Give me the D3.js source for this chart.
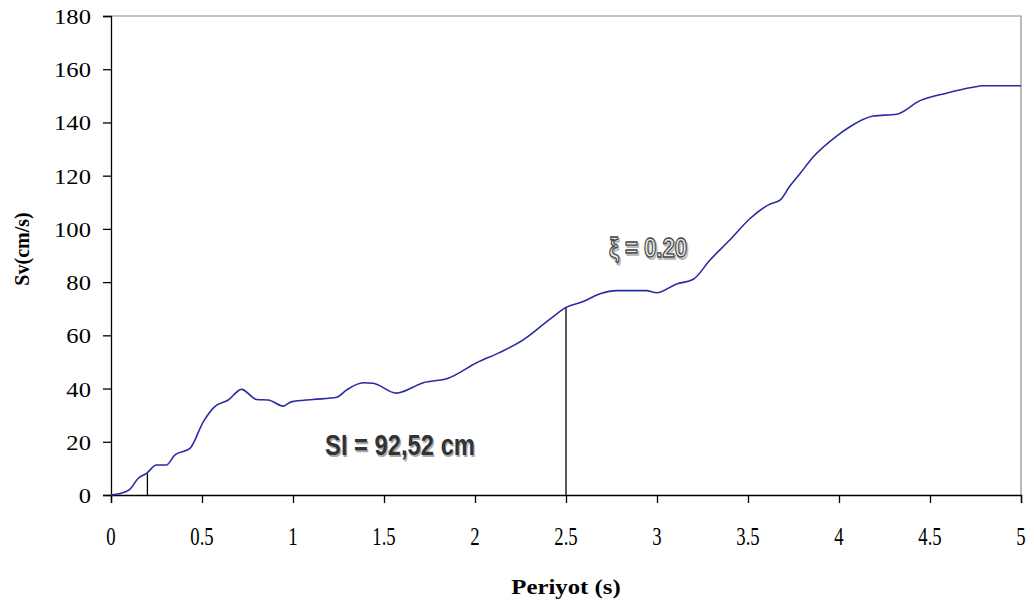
<!DOCTYPE html>
<html>
<head>
<meta charset="utf-8">
<script src="https://cdn.jsdelivr.net/npm/d3@7"></script>
<style>
  html, body { margin: 0; padding: 0; background: #fff; }
  svg { display: block; }
</style>
</head>
<body>
<svg id="chart" width="1034" height="607"></svg>
<script>
// ---- data ----
const periods = [0, 0.05, 0.10, 0.15, 0.195, 0.25, 0.305, 0.35, 0.434, 0.507, 0.57, 0.644, 0.717, 0.80, 0.864, 0.947, 0.99, 1.11, 1.24, 1.295, 1.386, 1.44, 1.567, 1.716, 1.853, 2.009, 2.137, 2.265, 2.412, 2.503, 2.595, 2.687, 2.778, 2.943, 2.998, 3.108, 3.20, 3.29, 3.40, 3.51, 3.62, 3.676, 3.73, 3.786, 3.859, 3.987, 4.06, 4.188, 4.317, 4.445, 4.59, 4.736, 4.79, 5.0];
const sv = [0, 0.6, 1.9, 6.3, 8.1, 11.3, 11.3, 15, 17.5, 27.5, 33.2, 35.7, 39.7, 35.9, 35.7, 33.4, 35, 35.9, 36.7, 39.5, 42.2, 42, 38.3, 42.2, 43.9, 49.7, 53.6, 58.3, 66.1, 70.6, 72.7, 75.6, 76.8, 76.8, 76.0, 79.3, 81.1, 88.2, 95.8, 103.8, 109.3, 110.8, 116.1, 120.8, 127.1, 134.9, 138.4, 142.4, 143.1, 148.2, 151, 153.2, 153.8, 153.8];
const xTicks = [0, 0.5, 1, 1.5, 2, 2.5, 3, 3.5, 4, 4.5, 5];
const xTickLabels = ["0", "0.5", "1", "1.5", "2", "2.5", "3", "3.5", "4", "4.5", "5"];
const yTicks = [0, 20, 40, 60, 80, 100, 120, 140, 160, 180];
const markerPeriods = [0.2, 2.5];
const markerValues = [8.1, 70.6];
const xTitle = "Periyot (s)";
const yTitle = "Sv(cm/s)";
const siLabel = "SI = 92,52 cm";
const xiLabel = "ξ = 0.20";

// ---- layout ----
const svg = d3.select("#chart");
const L = 111, R = 1021, T = 16, B = 495;
const x = d3.scaleLinear().domain([0, 5]).range([L, R]);
const y = d3.scaleLinear().domain([0, 180]).range([B, T]);

// plot-area frame (top and right)
svg.append("path")
  .attr("d", `M${L},${T}H${R}V${B}`)
  .attr("fill", "none").attr("stroke", "#8c8c8c").attr("stroke-width", 1.2);

// y axis
const yAxis = svg.append("g").attr("transform", `translate(${L},0)`)
  .call(d3.axisLeft(y).tickValues(yTicks).tickSize(8).tickFormat(""));
yAxis.select(".domain").attr("stroke", "#000").attr("stroke-width", 1.3);
yAxis.selectAll(".tick line").attr("stroke", "#000").attr("stroke-width", 1.3);
svg.append("g").selectAll("text").data(yTicks).join("text")
  .attr("transform", d => `translate(91,${y(d) + 8}) scale(1.12,1)`)
  .attr("text-anchor", "end")
  .attr("font-family", "Liberation Serif, serif")
  .attr("font-size", 22)
  .attr("fill", "#000")
  .text(d => d);

// x axis
const xAxis = svg.append("g").attr("transform", `translate(0,${B})`)
  .call(d3.axisBottom(x).tickValues(xTicks).tickSize(8).tickFormat(""));
xAxis.select(".domain").attr("stroke", "#000").attr("stroke-width", 1.3);
xAxis.selectAll(".tick line").attr("stroke", "#000").attr("stroke-width", 1.3);
svg.append("g").selectAll("text").data(xTicks).join("text")
  .attr("transform", d => `translate(${x(d)},545) scale(0.72,1)`)
  .attr("text-anchor", "middle")
  .attr("font-family", "Liberation Serif, serif")
  .attr("font-size", 26)
  .attr("fill", "#000")
  .text((d, i) => xTickLabels[i]);

// axis titles
svg.append("text")
  .attr("transform", `translate(566,594) scale(1.18,1)`)
  .attr("text-anchor", "middle")
  .attr("font-family", "Liberation Serif, serif")
  .attr("font-weight", "bold")
  .attr("font-size", 21)
  .text(xTitle);
svg.append("text")
  .attr("transform", `translate(29,249) rotate(-90)`)
  .attr("text-anchor", "middle")
  .attr("font-family", "Liberation Serif, serif")
  .attr("font-weight", "bold")
  .attr("font-size", 20)
  .text(yTitle);

// vertical marker lines
svg.append("g").selectAll("line").data(markerPeriods).join("line")
  .attr("x1", d => x(d)).attr("x2", d => x(d))
  .attr("y1", y(0)).attr("y2", (d, i) => y(markerValues[i]))
  .attr("stroke", "#000").attr("stroke-width", 1.3);

// curve
const line = d3.line().x((d, i) => x(periods[i])).y(d => y(d)).curve(d3.curveMonotoneX);
svg.append("path").datum(sv)
  .attr("d", line)
  .attr("fill", "none")
  .attr("stroke", "#2b2ba3")
  .attr("stroke-width", 1.6)
  .attr("stroke-linejoin", "round");

// annotations
const si = svg.append("g").attr("transform", "translate(400,455) scale(0.82,1)");
si.append("text").attr("x", 1.5).attr("y", 1.5)
  .attr("text-anchor", "middle").attr("font-family", "Liberation Sans, Arial, sans-serif")
  .attr("font-weight", "bold").attr("font-size", 29).attr("fill", "#aaa").text(siLabel);
si.append("text")
  .attr("text-anchor", "middle").attr("font-family", "Liberation Sans, Arial, sans-serif")
  .attr("font-weight", "bold").attr("font-size", 29).attr("fill", "#333").text(siLabel);

const xi = svg.append("g").attr("transform", "translate(648,257) scale(0.82,1)");
xi.append("text").attr("x", 1.5).attr("y", 1.5)
  .attr("text-anchor", "middle").attr("font-family", "Liberation Sans, Arial, sans-serif")
  .attr("font-weight", "bold").attr("font-size", 27)
  .attr("fill", "none").attr("stroke", "#bbb").attr("stroke-width", 2).text(xiLabel);
xi.append("text")
  .attr("text-anchor", "middle").attr("font-family", "Liberation Sans, Arial, sans-serif")
  .attr("font-weight", "bold").attr("font-size", 27)
  .attr("fill", "#e6e6e6").attr("stroke", "#444").attr("stroke-width", 1.3).text(xiLabel);
</script>
</body>
</html>
